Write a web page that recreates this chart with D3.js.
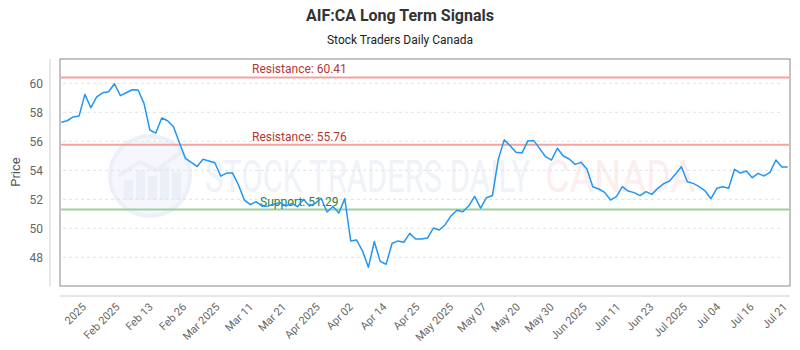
<!DOCTYPE html>
<html><head><meta charset="utf-8">
<script src="https://cdn.jsdelivr.net/npm/d3@7"></script>
<style>body{margin:0;background:#fff}svg{display:block}</style>
</head><body><div id="c"></div>
<script>
const prices = [57.31,57.42,57.68,57.74,59.24,58.32,59.06,59.35,59.42,59.97,
59.15,59.35,59.56,59.54,58.62,56.78,56.57,57.61,57.42,57.0,
55.9,54.83,54.55,54.27,54.76,54.64,54.52,53.6,53.81,53.81,
52.99,51.95,51.63,51.84,51.52,51.54,51.66,51.77,51.54,51.72,
51.49,52.0,51.54,51.72,52.07,51.12,51.5,51.05,52.05,49.13,
49.19,48.45,47.31,49.09,47.72,47.52,48.95,49.13,49.04,49.65,
49.26,49.26,49.33,50.02,49.88,50.25,50.87,51.25,51.14,51.55,
52.2,51.39,52.11,52.26,54.77,56.1,55.7,55.24,55.19,56.03,
56.05,55.5,54.94,54.71,55.52,54.99,54.78,54.41,54.55,54.09,
52.87,52.71,52.48,51.95,52.18,52.87,52.57,52.46,52.25,52.53,
52.34,52.76,53.08,53.26,53.74,54.25,53.21,53.1,52.87,52.59,
52.04,52.76,52.87,52.76,54.07,53.81,53.95,53.49,53.79,53.61,
53.86,54.71,54.23,54.23];
const tickLabels = ["2025","Feb 2025","Feb 13","Feb 26","Mar 2025","Mar 11","Mar 21","Apr 2025","Apr 02","Apr 14","Apr 25","May 2025","May 07","May 20","May 30","Jun 2025","Jun 11","Jun 23","Jul 2025","Jul 04","Jul 16","Jul 21"];
const tickIndex = [3.6,9.3,14.9,20.6,26.2,31.9,37.5,43.2,48.8,54.5,60.1,65.8,71.4,77.1,82.8,88.4,94.1,99.7,105.4,111.0,116.7,122.3];
const yTicks = [48,50,52,54,56,58,60];
const levels = [
  {label:"Resistance: 60.41", value:60.41, kind:"res"},
  {label:"Resistance: 55.76", value:55.76, kind:"res"},
  {label:"Support: 51.29", value:51.29, kind:"sup"}
];
const title = "AIF:CA Long Term Signals";
const subtitle = "Stock Traders Daily Canada";

const W=800,H=350;
const box={l:60,r:790,t:59,b:286};
const svg=d3.select("#c").append("svg").attr("width",W).attr("height",H);
const font="Roboto, 'Open Sans', sans-serif";

const x=d3.scaleLinear().domain([0,prices.length-1]).range([61.3,787.7]);
const y=d3.scaleLinear().domain([46.02,61.68]).range([box.b,box.t]);

// titles
svg.append("text").attr("x",400).attr("y",21).attr("text-anchor","middle")
  .attr("font-family",font).attr("font-weight","bold").attr("font-size",16).attr("fill","#333").text(title);
svg.append("text").attr("x",400).attr("y",44).attr("text-anchor","middle")
  .attr("font-family",font).attr("font-size",12).attr("fill","#222").text(subtitle);

// watermark
const wm=svg.append("g").attr("opacity",0.55);
wm.append("circle").attr("cx",150).attr("cy",176).attr("r",40).attr("fill","#eef2fa").attr("stroke","#dde5f3").attr("stroke-width",4);
[[124,20],[136,30],[148,24],[160,34],[172,28]].forEach(([bx,bh])=>{
  wm.append("rect").attr("x",bx).attr("y",200-bh).attr("width",9).attr("height",bh).attr("fill","#dbe3f1");
});
wm.append("path").attr("d","M118,176 L140,162 L156,170 L182,152").attr("fill","none").attr("stroke","#dbe3f1").attr("stroke-width",4);
wm.append("text").attr("x",205).attr("y",192).attr("font-family",font).attr("font-size",44)
  .attr("textLength",325).attr("lengthAdjust","spacingAndGlyphs").attr("fill","#e3e9f3").text("STOCK TRADERS DAILY");
wm.append("text").attr("x",545).attr("y",192).attr("font-family",font).attr("font-size",44)
  .attr("textLength",150).attr("lengthAdjust","spacingAndGlyphs").attr("fill","#fbe1e1").text("CANADA");

// grid
svg.append("g").selectAll("line").data(yTicks).join("line")
  .attr("x1",63).attr("x2",783).attr("y1",d=>y(d)).attr("y2",d=>y(d))
  .attr("stroke","#e2e2e2").attr("stroke-dasharray","3,3");

// axis lines
svg.append("line").attr("x1",50).attr("x2",50).attr("y1",box.t).attr("y2",box.b).attr("stroke","#ccc");
svg.append("line").attr("x1",box.l).attr("x2",box.r).attr("y1",296).attr("y2",296).attr("stroke","#ccc");
svg.append("rect").attr("x",box.l).attr("y",box.t).attr("width",box.r-box.l).attr("height",box.b-box.t)
  .attr("fill","none").attr("stroke","#888");

// y ticks
const ya=d3.axisLeft(y).tickValues(yTicks).tickSize(0).tickPadding(0);
const yg=svg.append("g").attr("transform","translate(43,0)").call(ya);
yg.select(".domain").remove();
yg.selectAll("text").attr("font-family",font).attr("font-size",12).attr("fill","#666");
svg.append("text").attr("transform","translate(20,172) rotate(-90)").attr("text-anchor","middle")
  .attr("font-family",font).attr("font-size",13).attr("fill","#555").text("Price");

// x ticks
const xa=d3.axisBottom(x).tickValues(tickIndex).tickFormat((d,i)=>tickLabels[i]).tickSize(0).tickPadding(0);
const xg=svg.append("g").attr("transform","translate(1,305)").call(xa);
xg.select(".domain").remove();
xg.selectAll("text").attr("font-family",font).attr("font-size",11).attr("fill","#666")
  .attr("text-anchor","end").attr("dy","0.35em").attr("y",0).attr("transform","rotate(-45)");

// levels
const lv=svg.append("g");
lv.selectAll("line").data(levels).join("line")
  .attr("x1",box.l+1).attr("x2",box.r-1).attr("y1",d=>y(d.value)).attr("y2",d=>y(d.value))
  .attr("stroke",d=>d.kind==="res"?"#f2a3a0":"#9fcf9f").attr("stroke-width",2);

// price line
svg.append("path").datum(prices).attr("fill","none").attr("stroke","#2196f3").attr("stroke-width",1.5)
  .attr("stroke-linejoin","round")
  .attr("d",d3.line().x((d,i)=>x(i)).y(d=>y(d)));

lv.selectAll("text").data(levels).join("text")
  .attr("x",d=>d.kind==="res"?252:260).attr("y",d=>y(d.value)-4)
  .attr("font-family",font).attr("font-size",12)
  .attr("fill",d=>d.kind==="res"?"#b03a32":"#2e7d32").text(d=>d.label);
</script></body></html>
